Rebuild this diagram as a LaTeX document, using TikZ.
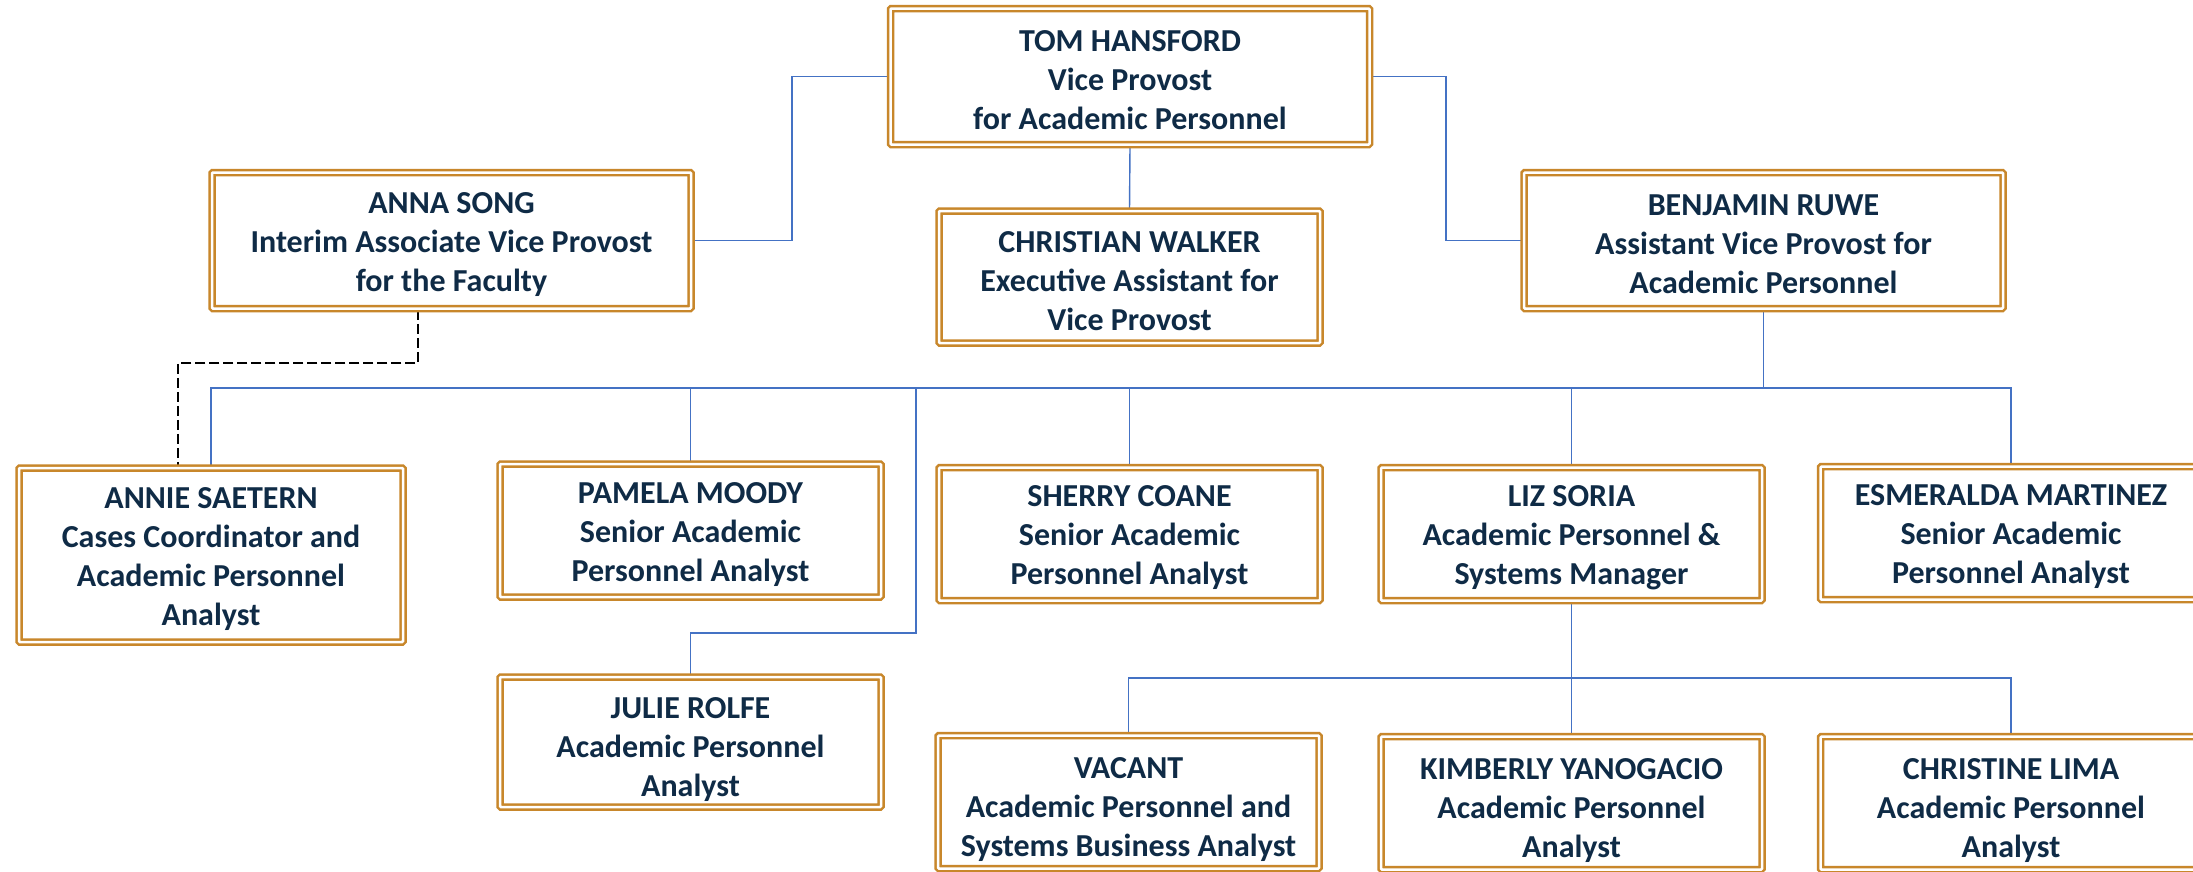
\documentclass[tikz,border=0pt]{standalone}
\usepackage{fontspec}
\setmainfont{Carlito}
\usetikzlibrary{backgrounds}
\definecolor{gold}{HTML}{C8872B}
\definecolor{navy}{HTML}{0F2B46}
\definecolor{conblue}{HTML}{4472C4}
\newcommand{\padA}{\rule{0pt}{28.5pt}}
\newcommand{\padB}{\rule{0pt}{36pt}}
\tikzset{
  orgbox/.style={draw=gold, line width=2.5pt, double=white, double distance=2.5pt,
    fill=white, inner sep=0pt, align=center, text=navy, rounded corners=1pt,
    font=\bfseries\fontsize{32}{39}\selectfont},
  stdbox/.style={orgbox, minimum width=381pt, minimum height=133pt},
  widebox/.style={orgbox, minimum width=479pt, minimum height=136pt},
  conn/.style={draw=conblue, line width=1.4pt},
  dashconn/.style={draw=black, line width=2.3pt, dash pattern=on 10pt off 4pt}
}
\begin{document}
\begin{tikzpicture}[x=1pt,y=-1pt]
\useasboundingbox (0,0) rectangle (2193,871);
% boxes
\node[widebox] (tom) at (1130,76.5) {\padA TOM HANSFORD\\Vice Provost\\for Academic Personnel};
\node[widebox] (anna) at (451.5,240.5) {\padA ANNA SONG\\Interim Associate Vice Provost\\for the Faculty};
\node[stdbox, minimum height=132pt] (christian) at (1129.5,277) {\padA CHRISTIAN WALKER\\Executive Assistant for\\Vice Provost};
\node[widebox] (ben) at (1763.5,240.5) {\padA BENJAMIN RUWE\\Assistant Vice Provost for\\Academic Personnel};
\node[stdbox, minimum width=384pt, minimum height=174pt] (annie) at (211,555) {\padA ANNIE SAETERN\\Cases Coordinator and\\Academic Personnel\\Analyst};
\node[stdbox] (pamela) at (690.5,530.5) {\padA PAMELA MOODY\\Senior Academic\\Personnel Analyst};
\node[stdbox] (sherry) at (1129.5,534) {\padA SHERRY COANE\\Senior Academic\\Personnel Analyst};
\node[stdbox] (liz) at (1571.5,534) {\padA LIZ SORIA\\Academic Personnel \&\\Systems Manager};
\node[stdbox] (esme) at (2011,533) {\padA ESMERALDA MARTINEZ\\Senior Academic\\Personnel Analyst};
\node[stdbox, minimum height=130pt] (julie) at (690.5,742) {\padB JULIE ROLFE\\Academic Personnel\\Analyst};
\node[stdbox] (vacant) at (1128.5,802) {\padB VACANT\\Academic Personnel and\\Systems Business Analyst};
\node[stdbox] (kim) at (1571.5,803) {\padB KIMBERLY YANOGACIO\\Academic Personnel\\Analyst};
\node[stdbox] (christine) at (2011,803) {\padB CHRISTINE LIMA\\Academic Personnel\\Analyst};
% helper coordinates
\coordinate (busA) at (0,388);
\coordinate (busB) at (0,678);
\coordinate (tomLx) at (792,0);
\coordinate (tomRx) at (1446,0);
\coordinate (jbend) at (916,633);
\coordinate (d1) at (418,363);
\coordinate (d2) at (178,363);
\begin{scope}[on background layer]
\fill[white] (0,0) rectangle (2193,871);
\draw[conn] (tom.west) -- (tom.west -| tomLx) |- (anna.east);
\draw[conn] (tom.east) -- (tom.east -| tomRx) |- (ben.west);
\draw[conn] (tom.south) -- (christian.north);
\draw[conn] (ben.south) -- (ben.south |- busA);
\draw[conn] (annie.north) |- (ben.south |- busA);
\draw[conn] (esme.north) |- (ben.south |- busA);
\draw[conn] (pamela.north) -- (pamela.north |- busA);
\draw[conn] (sherry.north) -- (sherry.north |- busA);
\draw[conn] (liz.north) -- (liz.north |- busA);
\draw[conn] (jbend |- busA) -- (jbend) -| (julie.north);
\draw[conn] (liz.south) -- (kim.north);
\draw[conn] (vacant.north) |- (christine.north |- busB) -- (christine.north);
\draw[dashconn] (anna.south -| d1) -- (d1) -- (d2) -- (annie.north -| d2);
\end{scope}
\end{tikzpicture}
\end{document}
